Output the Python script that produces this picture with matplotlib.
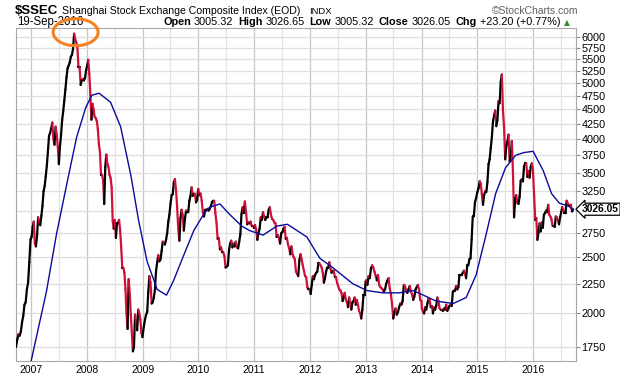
import numpy as np
import pandas as pd
import matplotlib
matplotlib.use('Agg')
import matplotlib.pyplot as plt
import matplotlib.dates as mdates
from matplotlib.collections import LineCollection
from matplotlib.patches import Ellipse
from matplotlib.ticker import FixedLocator, NullLocator, NullFormatter, FuncFormatter
from matplotlib.transforms import IdentityTransform

plt.rcParams['font.family'] = ['Liberation Sans', 'DejaVu Sans']

# ---------------- weekly closes ----------------
p2006 = [1750, 1800, 1840, 1830, 1860, 1930, 1980, 2070, 2090, 2200, 2260, 2450, 2680]
p2007 = [2710, 2820, 2880, 2640, 2610, 2720, 2930, 2880, 2840, 2950, 3070, 3250, 3320,
         3450, 3600, 3810, 4050, 4100, 4170, 4270, 4000, 3910, 4200, 4070, 3890, 3620,
         3880, 4060, 4310, 4470, 4660, 4870, 5110, 5300, 5360, 5420, 5550, 5590, 5720,
         6080, 5950, 5870, 5760, 5320, 5320, 4960, 5050, 5080, 5050, 5100, 5260]
p2008 = [5360, 5480, 5180, 4760, 4320, 4600, 4500, 4370, 4350, 4300, 4170, 3920, 3800,
         3470, 3470, 3390, 3090, 3580, 3760, 3620, 3580, 3470, 3430, 3300, 2890, 2800,
         2900, 2700, 2860, 2860, 2900, 2780, 2600, 2400, 2400, 2350, 2200, 2000, 1880,
         2290, 2170, 1990, 1850, 1720, 1750, 1990, 1930, 1870, 2030, 2000, 1950, 1850, 1820]
p2009 = [1900, 1950, 1990, 2010, 2180, 2320, 2260, 2080, 2090, 2130, 2200, 2370, 2450,
         2520, 2460, 2480, 2560, 2660, 2650, 2630, 2680, 2750, 2880, 2960, 3090, 3200,
         3210, 3370, 3410, 3260, 3050, 2800, 2670, 2920, 3020, 2960, 2780, 2910, 3010,
         2990, 2990, 3130, 3190, 3300, 3190, 3220, 3220, 3110, 3140, 3280]
p2010 = [3200, 3220, 3130, 2990, 2940, 3020, 3020, 3030, 3010, 3030, 3060, 3110, 3130,
         3130, 2980, 2870, 2690, 2700, 2580, 2600, 2550, 2550, 2510, 2400, 2410, 2420,
         2570, 2640, 2670, 2600, 2640, 2610, 2660, 2600, 2590, 2660, 2740, 2970, 3050,
         2980, 3120, 2990, 2850, 2870, 2860, 2880, 2830, 2830, 2810]
p2011 = [2840, 2790, 2680, 2750, 2800, 2930, 2900, 2990, 2940, 2900, 2930, 2930, 3020,
         3050, 2960, 2910, 2900, 2870, 2860, 2710, 2730, 2700, 2640, 2750, 2760, 2800,
         2820, 2690, 2700, 2630, 2590, 2530, 2610, 2530, 2500, 2480, 2360, 2340, 2320,
         2470, 2530, 2480, 2420, 2370, 2320, 2310, 2220, 2200, 2200]
p2012 = [2160, 2240, 2320, 2290, 2330, 2350, 2360, 2440, 2440, 2420, 2400, 2350, 2260,
         2300, 2360, 2400, 2400, 2450, 2390, 2350, 2370, 2370, 2310, 2310, 2260, 2230,
         2200, 2190, 2170, 2100, 2130, 2170, 2110, 2090, 2050, 2130, 2080, 2030, 2090,
         2100, 2130, 2070, 2110, 2070, 2020, 2000, 1960, 2030, 2150, 2150, 2270]
p2013 = [2280, 2240, 2320, 2300, 2390, 2420, 2400, 2360, 2320, 2280, 2330, 2240, 2220,
         2210, 2200, 2180, 2200, 2250, 2280, 2300, 2210, 2160, 2070, 1960, 2010, 2040,
         1990, 2010, 2050, 2080, 2070, 2100, 2240, 2230, 2190, 2170, 2200, 2230, 2180,
         2160, 2110, 2140, 2200, 2220, 2240, 2200, 2110, 2100]
p2014 = [2040, 2010, 2000, 2050, 2030, 2080, 2120, 2110, 2050, 2060, 2000, 2050, 2030,
         2060, 2130, 2100, 2040, 2030, 2030, 2020, 2040, 2030, 2070, 2020, 2040, 2060,
         2070, 2060, 2180, 2190, 2190, 2230, 2200, 2220, 2330, 2330, 2330, 2350, 2370,
         2340, 2300, 2420, 2420, 2480, 2490, 2680, 2940, 2940, 3110, 3160, 3230]
p2015 = [3290, 3380, 3350, 3210, 3080, 3200, 3250, 3240, 3370, 3620, 3690, 3860, 4030,
         4290, 4390, 4480, 4210, 4310, 4650, 4610, 5020, 5170, 4480, 4190, 3690, 3880,
         3960, 4070, 3660, 3740, 3970, 3510, 2930, 3160, 3200, 3100, 3090, 3180, 3390,
         3410, 3380, 3590, 3630, 3630, 3440, 3520, 3430, 3580, 3630, 3540]
p2016 = [3190, 2900, 2920, 2680, 2760, 2860, 2770, 2870, 2810, 2960, 2980, 3010, 2990,
         3080, 2960, 2940, 2910, 2830, 2830, 2820, 2940, 2930, 2890, 2850, 2930, 2990,
         3050, 3010, 2980, 2980, 3130, 3100, 3070, 3070, 3080, 3000, 3026.05]

year_spans = [('2006-09-25', '2006-12-29', p2006), ('2007-01-05', '2007-12-28', p2007),
              ('2008-01-04', '2008-12-31', p2008), ('2009-01-09', '2009-12-31', p2009),
              ('2010-01-08', '2010-12-31', p2010), ('2011-01-07', '2011-12-30', p2011),
              ('2012-01-06', '2012-12-31', p2012), ('2013-01-04', '2013-12-31', p2013),
              ('2014-01-03', '2014-12-31', p2014), ('2015-01-09', '2015-12-31', p2015),
              ('2016-01-08', '2016-09-19', p2016)]

# 200-day moving average (blue)
ma_dates = ['2006-10-01', '2007-01-01', '2007-04-12', '2007-06-17', '2007-08-22', '2007-10-27',
            '2007-12-25', '2008-02-03', '2008-03-22', '2008-06-05', '2008-08-10', '2008-10-16',
            '2008-12-05', '2009-01-30', '2009-04-06', '2009-06-06', '2009-07-23', '2009-09-27',
            '2009-12-02', '2010-02-06', '2010-03-15', '2010-05-22', '2010-07-27', '2010-10-12',
            '2010-12-02', '2011-02-28', '2011-05-30', '2011-08-07', '2011-12-12', '2012-03-06',
            '2012-05-29', '2012-10-08', '2013-01-08', '2013-04-23', '2013-08-07', '2013-11-06',
            '2014-01-30', '2014-04-06', '2014-07-27', '2014-10-20', '2014-12-24', '2015-02-28',
            '2015-05-01', '2015-07-05', '2015-09-09', '2015-11-01', '2016-01-01', '2016-03-07',
            '2016-05-01', '2016-06-21', '2016-08-25', '2016-09-19']
ma_values = [1480, 1650, 2180, 2740, 3330, 4030, 4530, 4760, 4800, 4630, 4200, 3460,
             2900, 2460, 2200, 2150, 2280, 2520, 2780, 2970, 3050, 3090, 2960, 2830,
             2780, 2730, 2830, 2850, 2710, 2490, 2400, 2250, 2190, 2170, 2170, 2190,
             2140, 2100, 2080, 2130, 2330, 2740, 3220, 3570, 3750, 3790, 3810, 3530,
             3220, 3100, 3060, 3010]

y_ticks = [1750, 2000, 2250, 2500, 2750, 3000, 3250, 3500, 3750, 4000, 4250, 4500,
           4750, 5000, 5250, 5500, 5750, 6000]

header_stats = [('Open', '3005.32'), ('High', '3026.65'), ('Low', '3005.32'),
                ('Close', '3026.05'), ('Chg', '+23.20 (+0.77%)')]
last_close = 3026.05

# ---------------- build series ----------------
dates = []
vals = []
for start, end, arr in year_spans:
    dates.extend(pd.date_range(start, end, periods=len(arr)))
    vals.extend(arr)
xs = mdates.date2num(pd.DatetimeIndex(dates).to_pydatetime())
vals = np.array(vals, dtype=float)

W, H = 620, 376
fig = plt.figure(figsize=(W / 100, H / 100), dpi=100)
ax = fig.add_axes([16 / W, 1 - 361 / H, 560 / W, 333 / H])

ax.set_yscale('log')
ax.set_ylim(1655, 6220)
ax.set_xlim(pd.Timestamp('2006-09-25'), pd.Timestamp('2016-10-08'))

# price line: black on up moves, red on down moves
pts = np.column_stack([xs, vals])
segs = np.stack([pts[:-1], pts[1:]], axis=1)
cols = np.where(np.diff(vals) >= 0, 'black', '#d0103a')
lc = LineCollection(segs, colors=cols, linewidths=1.6, capstyle='round', joinstyle='round', zorder=3)
ax.add_collection(lc)

ax.plot(pd.to_datetime(ma_dates), ma_values, color='#0a0a9c', lw=1.0, zorder=4)


# the price tag hides the tick label nearest to the last close
def ylab(v, p):
    if abs(np.log(v / last_close)) < 0.04:
        return ''
    return f'{v:.0f}'


ax.yaxis.set_major_locator(FixedLocator(y_ticks))
ax.yaxis.set_minor_locator(NullLocator())
ax.yaxis.set_major_formatter(FuncFormatter(ylab))
ax.yaxis.set_minor_formatter(NullFormatter())
ax.yaxis.tick_right()
ax.tick_params(axis='y', length=3, width=0.8, color='#888888', pad=1, labelsize=7.8)

ax.xaxis.set_major_locator(mdates.YearLocator())
ax.xaxis.set_major_formatter(mdates.DateFormatter('%Y'))
ax.xaxis.set_minor_locator(mdates.MonthLocator(bymonth=7))
ax.xaxis.set_minor_formatter(NullFormatter())
ax.tick_params(axis='x', which='both', length=0, pad=3, labelsize=7.5)

ax.grid(which='major', axis='x', color='#c6c6c6', lw=0.9)
ax.grid(which='minor', axis='x', color='#e3e3e3', lw=0.9)
ax.grid(which='major', axis='y', color='#dedede', lw=0.9)
ax.set_axisbelow(True)
for s in ax.spines.values():
    s.set_color('#a8a8a8')

# last price tag
ax.annotate(f'{last_close:.2f}', xy=(1, last_close), xycoords=('axes fraction', 'data'),
            xytext=(4.5, 0), textcoords='offset points', ha='left', va='center',
            fontsize=7.4, fontweight='bold', annotation_clip=False,
            bbox=dict(boxstyle='larrow,pad=0.1', fc='white', ec='black', lw=0.9))

# ---------------- header ----------------
def fx(px):
    return px / W

def fy(py):
    return 1 - py / H

fig.text(fx(15), fy(14), '$SSEC', fontsize=9.5, fontweight='bold', va='baseline')
fig.text(fx(62), fy(14), 'Shanghai Stock Exchange Composite Index (EOD)', fontsize=7.6, va='baseline')
fig.text(fx(309), fy(14), 'INDX', fontsize=6.8, va='baseline')
fig.text(fx(578), fy(14), '\u00a9StockCharts.com', fontsize=7.5, color='#606060', va='baseline', ha='right')
fig.text(fx(17), fy(25), '19-Sep-2016', fontsize=8.3, va='baseline')

renderer = fig.canvas.get_renderer()
xpos = 163
for lab, val in header_stats:
    t = fig.text(fx(xpos), fy(25), lab, fontsize=7.8, fontweight='bold', va='baseline')
    xpos = t.get_window_extent(renderer).x1 + 3
    t = fig.text(fx(xpos), fy(25), val, fontsize=7.8, va='baseline')
    xpos = t.get_window_extent(renderer).x1 + 5
fig.text(fx(xpos - 2), fy(25), '\u25b2', fontsize=5.5, color='#2f8f2f', va='baseline',
         family='DejaVu Sans')

# orange circle around the 2007 top
i_max = int(np.argmax(vals))
cx, cy = ax.transData.transform((xs[i_max], vals[i_max]))
fig.add_artist(Ellipse((cx + 1.5, cy + 1.5), 45, 27, transform=IdentityTransform(),
                       fill=False, ec='#f5821f', lw=2.2, zorder=10))

fig.savefig('out.png', dpi=100)
